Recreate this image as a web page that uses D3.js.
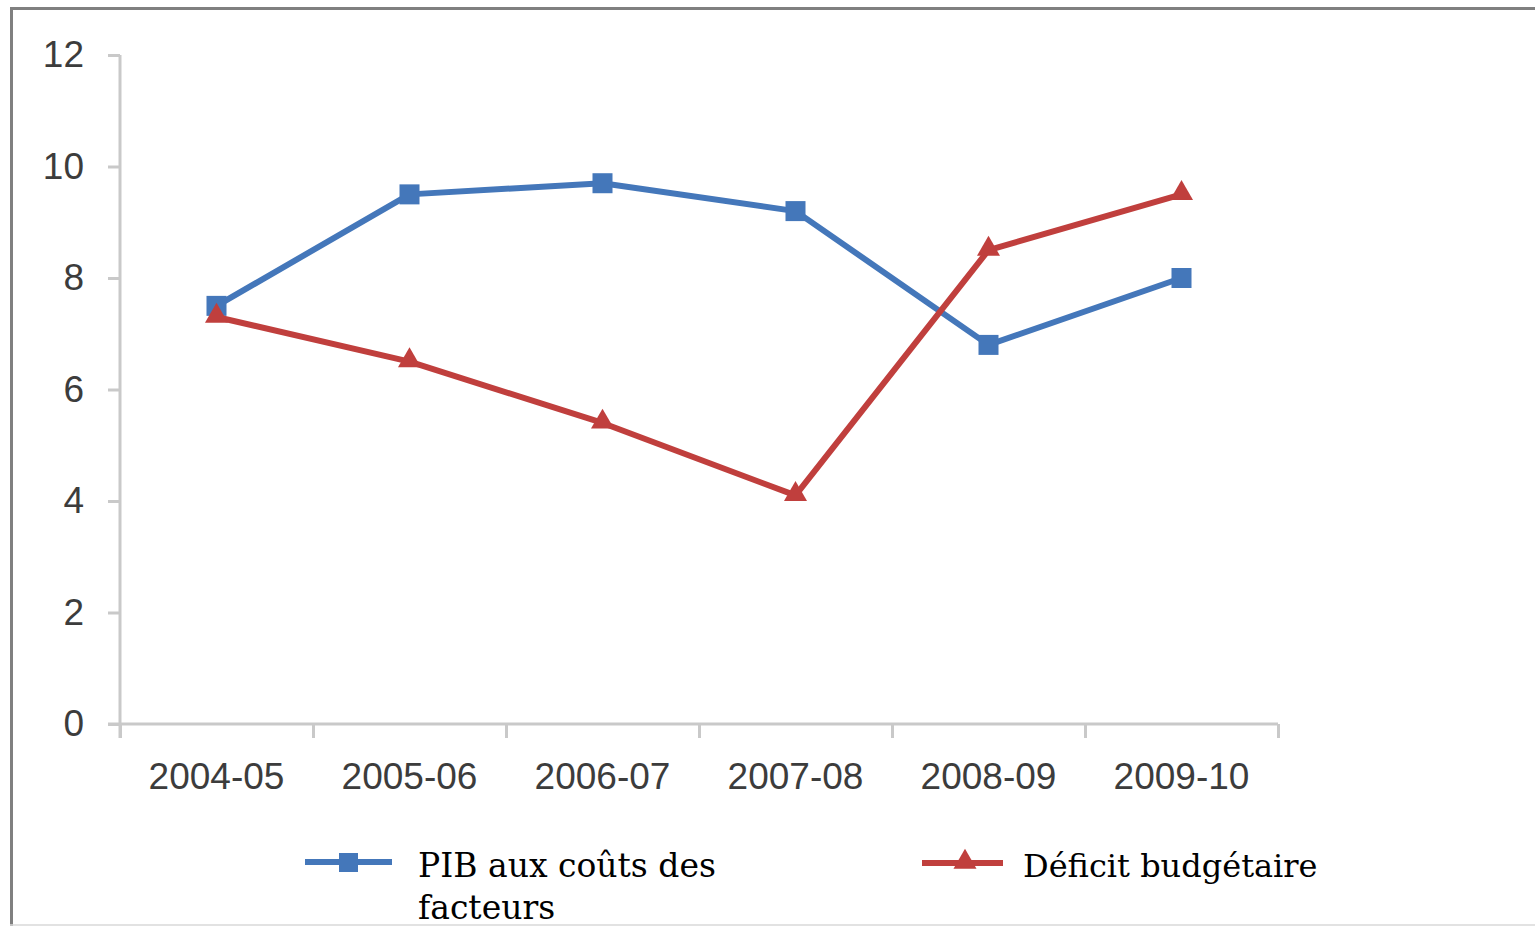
<!DOCTYPE html>
<html>
<head>
<meta charset="utf-8">
<script src="https://cdnjs.cloudflare.com/ajax/libs/d3/7.8.5/d3.min.js"></script>
<style>
  body { margin: 0; background: #fff; }
  svg { display: block; }
</style>
</head>
<body>
<div id="chart"></div>
<script>
var categories = ["2004-05", "2005-06", "2006-07", "2007-08", "2008-09", "2009-10"];
var pibValues = [7.5, 9.5, 9.7, 9.2, 6.8, 8.0];
var deficitValues = [7.3, 6.5, 5.4, 4.1, 8.5, 9.5];
var yTicks = [0, 2, 4, 6, 8, 10, 12];
var seriesNames = ["PIB aux coûts des facteurs", "Déficit budgétaire"];

var width = 1535, height = 926;
var plotLeft = 120, plotRight = 1278, plotTop = 55, plotBottom = 724;
var axisColor = "#c9c9c9", labelColor = "#3c3c3c";
var blue = "#4477ba", red = "#c03f3d";

var svg = d3.select("#chart").append("svg")
  .attr("width", width)
  .attr("height", height);

// outer frame
svg.append("line").attr("x1", 10).attr("x2", width).attr("y1", 8.5).attr("y2", 8.5)
  .attr("stroke", "#808080").attr("stroke-width", 3);
svg.append("line").attr("x1", 11.5).attr("x2", 11.5).attr("y1", 7).attr("y2", height)
  .attr("stroke", "#808080").attr("stroke-width", 3);
svg.append("line").attr("x1", 10).attr("x2", width).attr("y1", 925).attr("y2", 925)
  .attr("stroke", "#d8d8d8").attr("stroke-width", 1.5);

var x = d3.scaleBand().domain(categories).range([plotLeft, plotRight]);
var xEdge = d3.scaleLinear().domain([0, categories.length]).range([plotLeft, plotRight]);
var y = d3.scaleLinear().domain([0, 12]).range([plotBottom, plotTop]);

// y axis
var yAxis = svg.append("g")
  .attr("transform", "translate(" + plotLeft + ",0)")
  .call(d3.axisLeft(y).tickValues(yTicks).tickSize(12).tickPadding(24));
yAxis.select(".domain").remove();
yAxis.append("line").attr("x1", 0).attr("x2", 0).attr("y1", plotTop).attr("y2", plotBottom + 14)
  .attr("stroke", axisColor).attr("stroke-width", 3);
yAxis.selectAll(".tick line").attr("stroke", axisColor).attr("stroke-width", 3);
yAxis.selectAll(".tick text")
  .attr("fill", labelColor)
  .attr("font-family", "Liberation Sans, Arial, sans-serif")
  .attr("font-size", 37);

// x axis ticks at category edges
var xAxis = svg.append("g")
  .attr("transform", "translate(0," + plotBottom + ")")
  .call(d3.axisBottom(xEdge).tickValues(d3.range(categories.length + 1)).tickSize(14).tickFormat(""));
xAxis.select(".domain").remove();
xAxis.append("line").attr("x1", plotLeft - 12).attr("x2", plotRight).attr("y1", 0).attr("y2", 0)
  .attr("stroke", axisColor).attr("stroke-width", 3);
xAxis.selectAll(".tick line").attr("stroke", axisColor).attr("stroke-width", 3);

// x labels
var xLabels = svg.append("g")
  .attr("transform", "translate(0," + plotBottom + ")")
  .call(d3.axisBottom(x).tickSize(0).tickPadding(39));
xLabels.select(".domain").remove();
xLabels.selectAll(".tick text")
  .attr("fill", labelColor)
  .attr("font-family", "Liberation Sans, Arial, sans-serif")
  .attr("font-size", 37);

function cx(d, i) { return x(categories[i]) + x.bandwidth() / 2; }

var line = d3.line().x(cx).y(function(d) { return y(d); });

var tri = d3.symbol().type(d3.symbolTriangle).size(230);

// PIB series
svg.append("path").datum(pibValues)
  .attr("d", line).attr("fill", "none")
  .attr("stroke", blue).attr("stroke-width", 6).attr("stroke-linejoin", "round");
svg.selectAll("rect.pib").data(pibValues).enter().append("rect")
  .attr("class", "pib")
  .attr("x", function(d, i) { return cx(d, i) - 10; })
  .attr("y", function(d) { return y(d) - 10; })
  .attr("width", 20).attr("height", 20)
  .attr("fill", blue);

// Déficit series
svg.append("path").datum(deficitValues)
  .attr("d", line).attr("fill", "none")
  .attr("stroke", red).attr("stroke-width", 6).attr("stroke-linejoin", "round");
svg.selectAll("path.def").data(deficitValues).enter().append("path")
  .attr("class", "def")
  .attr("d", tri)
  .attr("transform", function(d, i) { return "translate(" + cx(d, i) + "," + (y(d) - 1) + ")"; })
  .attr("fill", red);

// legend
var legend = svg.append("g")
  .attr("font-family", "DejaVu Serif, Liberation Serif, serif")
  .attr("fill", "#000");

legend.append("line").attr("x1", 305).attr("x2", 392).attr("y1", 862).attr("y2", 862)
  .attr("stroke", blue).attr("stroke-width", 6);
legend.append("rect").attr("x", 339).attr("y", 853).attr("width", 19).attr("height", 19)
  .attr("fill", blue);
var t1 = legend.append("text").attr("x", 418).attr("y", 877).attr("font-size", 33);
t1.append("tspan").attr("x", 418).text(seriesNames[0].split(" facteurs")[0]);
t1.append("tspan").attr("x", 418).attr("dy", 42).text("facteurs");

legend.append("line").attr("x1", 922).attr("x2", 1003).attr("y1", 863).attr("y2", 863)
  .attr("stroke", red).attr("stroke-width", 6);
legend.append("path").attr("d", tri)
  .attr("transform", "translate(965,862)").attr("fill", red);
legend.append("text").attr("x", 1023).attr("y", 877).attr("font-size", 32)
  .text(seriesNames[1]);
</script>
</body>
</html>
